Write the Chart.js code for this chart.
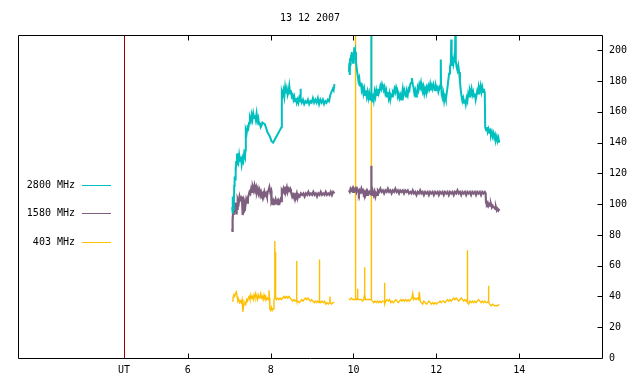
<!DOCTYPE html>
<html>
<head>
<meta charset="utf-8">
<script src="https://cdn.jsdelivr.net/npm/chart.js@4/dist/chart.umd.min.js"></script>
<style>
  html, body { margin: 0; padding: 0; background: #fff; }
  #wrap { width: 640px; height: 384px; }
</style>
</head>
<body>
<div id="wrap"><canvas id="solarChart" width="640" height="384"></canvas></div>
<script>
// Dados (hora UT, fluxo)
const chartTitle = '13 12 2007';
const seriesNames = ['2800 MHz', '1580 MHz', '403 MHz'];
const xTicks = [4.46, 6, 8, 10, 12, 14];
const xTickLabels = ['UT', '6', '8', '10', '12', '14'];
const yTicks = [0, 20, 40, 60, 80, 100, 120, 140, 160, 180, 200];
const utLine = 4.46;

const t2800 = [7.07,7.08,7.09,7.10,7.11,7.12,7.13,7.14,7.15,7.16,7.17,7.18,7.19,7.20,7.22,7.24,7.26,7.28,7.30,7.32,7.34,7.36,7.38,7.39,
  7.40,7.42,7.44,7.46,7.48,7.50,7.52,7.54,7.56,7.58,7.60,7.62,7.64,7.66,7.68,7.70,7.72,7.74,7.76,7.78,7.80,
  7.86,7.92,7.98,8.02,8.06,8.10,8.14,8.18,8.22,8.26,
  8.27,8.29,8.31,8.33,8.35,8.37,8.39,8.41,8.43,8.45,8.47,8.49,8.51,8.53,8.55,8.57,8.59,8.61,8.63,8.65,8.67,8.69,8.71,8.72,8.73,8.75,
  8.78,8.81,8.84,8.87,8.90,8.93,8.96,8.99,9.02,9.05,9.08,9.11,9.14,9.17,9.20,9.23,9.26,9.29,9.32,9.35,9.38,9.41,9.44,9.47,9.50,9.52,9.54,
  9.70,
  9.89,9.90,9.91,9.92,9.93,9.94,9.95,9.96,9.97,9.98,9.99,10.00,10.01,10.02,10.03,10.04,10.06,10.08,10.10,10.12,10.14,10.16,10.18,10.20,
  10.22,10.24,10.26,10.28,10.30,10.32,10.34,10.36,10.38,10.40,10.42,10.425,10.43,10.435,10.45,10.47,10.49,10.51,10.53,10.55,10.57,10.59,
  10.61,10.63,10.65,10.67,10.69,10.71,10.73,10.75,10.77,10.79,10.81,10.83,10.85,10.87,10.89,10.91,10.93,10.95,10.97,10.99,11.01,11.03,
  11.05,11.07,11.09,11.11,11.13,11.15,11.17,11.19,11.21,11.23,11.25,11.27,11.29,11.31,11.33,11.35,11.37,11.39,11.41,11.43,11.45,11.47,
  11.49,11.51,11.53,11.55,11.57,11.59,11.61,11.63,11.65,11.67,11.69,11.71,11.73,11.75,11.77,11.79,11.81,11.83,11.85,11.87,11.89,11.91,
  11.93,11.95,11.97,11.99,12.01,12.03,12.05,12.07,12.09,12.105,12.11,12.115,12.13,12.15,12.17,12.19,12.21,12.23,12.25,12.27,12.29,12.31,
  12.33,12.35,12.36,12.37,12.39,12.41,12.43,12.45,12.46,12.47,12.49,12.51,12.53,12.55,12.57,12.59,12.61,12.63,12.65,12.67,12.69,12.71,
  12.73,12.75,12.77,12.79,12.81,12.83,12.85,12.87,12.89,12.91,12.93,12.95,12.97,12.99,13.01,13.03,13.05,13.07,13.09,13.11,13.13,13.15,
  13.17,13.18,13.20,13.22,13.24,13.26,13.28,13.30,13.32,13.34,13.36,13.38,13.40,13.42,13.44,13.46,13.48,13.50,13.52];
const v2800 = [98,105,94,100,96,112,118,116,124,121,128,125,133,129,127,132,128,131,126,130,128,133,131,135,
  148,146,150,149,153,156,154,158,155,159,156,158,155,159,154,156,152,153,150,151,153,
  152,147,144,141,140,142,144,146,148,150,
  173,171,174,170,176,172,175,171,173,177,172,174,170,171,168,170,167,169,166,168,166,169,167,175,168,166,
  168,165,167,166,168,165,167,166,169,166,168,166,169,165,168,166,168,165,167,166,168,167,171,173,175,174,178,
  null,
  186,192,184,195,190,197,193,199,194,196,192,198,195,202,197,199,193,188,184,180,182,177,179,174,
  176,172,175,171,174,170,173,169,172,168,171,172,215,170,167,172,168,173,170,174,171,175,
  172,174,177,175,178,176,174,176,172,174,170,173,169,172,168,171,170,173,172,175,173,176,
  174,170,172,169,171,168,171,175,171,174,172,170,173,171,175,174,178,179,182,178,176,172,
  174,170,172,176,174,178,176,179,175,173,176,172,175,173,176,174,177,175,178,174,177,175,
  178,176,174,177,175,176,173,175,177,178,194,177,171,169,172,167,170,168,172,176,181,185,
  189,192,207,190,194,191,195,192,215,193,189,187,190,186,180,174,170,167,169,166,168,165,
  169,167,172,170,174,172,175,171,173,170,172,168,171,174,172,176,174,177,173,176,173,175,
  172,150,148,150,147,149,147,148,145,147,144,146,143,145,142,144,141,143,140];

const t1580 = [7.07,7.075,7.08,7.09,7.10,7.11,7.12,7.13,7.14,7.15,7.16,7.17,7.18,7.19,7.20,7.21,7.23,7.25,7.27,7.29,7.31,7.32,7.33,7.34,
  7.35,7.36,7.37,7.39,7.41,7.43,7.45,7.47,7.49,7.51,7.53,7.55,7.57,7.59,7.61,7.63,7.65,7.67,7.69,7.71,7.73,7.75,7.77,7.79,7.81,7.83,
  7.85,7.87,7.89,7.91,7.93,7.95,7.97,7.99,8.01,8.02,8.04,8.06,8.08,8.10,8.12,8.14,8.16,8.18,8.20,8.22,8.24,8.26,8.27,8.29,8.31,8.33,
  8.35,8.37,8.39,8.41,8.43,8.45,8.47,8.49,8.51,8.53,8.55,8.57,8.59,8.61,8.63,8.65,8.67,8.70,8.73,8.76,8.79,8.82,8.85,8.88,8.91,8.94,
  8.97,9.00,9.03,9.06,9.09,9.12,9.15,9.18,9.21,9.24,9.27,9.30,9.33,9.36,9.39,9.42,9.45,9.48,9.51,9.54,
  9.70,
  9.89,9.91,9.93,9.95,9.97,9.99,10.01,10.03,10.05,10.07,10.09,10.11,10.13,10.15,10.17,10.19,10.21,10.23,10.25,10.27,10.29,10.31,10.33,
  10.35,10.37,10.39,10.41,10.425,10.43,10.435,10.45,10.47,10.49,10.51,10.53,10.55,10.57,10.59,10.62,10.65,10.68,10.71,10.74,10.77,
  10.80,10.83,10.86,10.89,10.92,10.95,10.98,11.01,11.04,11.07,11.10,11.13,11.16,11.19,11.22,11.25,11.28,11.31,11.34,11.37,11.40,
  11.43,11.46,11.49,11.52,11.55,11.58,11.61,11.64,11.67,11.70,11.73,11.76,11.79,11.82,11.85,11.88,11.91,11.94,11.97,12.00,12.03,
  12.06,12.09,12.12,12.15,12.18,12.21,12.24,12.27,12.30,12.33,12.36,12.39,12.42,12.45,12.48,12.51,12.54,12.57,12.60,12.63,12.66,
  12.69,12.72,12.75,12.78,12.81,12.84,12.87,12.90,12.93,12.96,12.99,13.02,13.05,13.08,13.11,13.14,13.17,13.19,13.20,13.22,13.24,
  13.26,13.28,13.30,13.32,13.34,13.36,13.38,13.40,13.42,13.44,13.46,13.48,13.50,13.52];
const v1580 = [84,86,82,90,97,93,100,96,101,95,99,94,100,97,102,103,101,105,103,104,102,105,93,95,
  98,96,101,99,103,101,104,106,108,107,110,108,111,109,112,109,111,108,110,107,109,106,108,106,107,105,
  108,106,107,105,108,109,111,108,109,101,102,100,102,101,103,101,102,100,102,101,103,102,109,108,110,108,
  110,109,111,108,110,109,110,108,107,105,106,104,106,105,107,104,106,105,107,106,107,105,107,106,108,106,
  107,106,108,106,107,105,107,106,108,106,107,106,108,106,107,106,108,106,108,107,
  null,
  109,108,110,109,110,108,110,109,110,108,110,109,107,109,108,110,108,109,107,108,106,108,106,
  108,107,108,107,108,125,107,106,108,106,108,105,107,106,109,108,110,108,109,107,109,
  108,110,108,109,107,109,108,110,108,109,107,109,108,109,107,109,108,109,107,108,107,
  109,107,108,106,108,107,109,107,108,106,108,107,108,106,108,107,108,106,108,107,108,
  106,108,107,108,106,108,107,108,106,108,107,108,106,108,107,109,107,108,106,108,107,
  108,106,108,107,108,106,108,107,108,106,108,107,108,106,108,107,108,107,101,100,101,
  99,100,99,100,98,99,98,98,97,98,96,97,96,97];

const t403 = [7.07,7.09,7.11,7.13,7.15,7.17,7.19,7.21,7.23,7.25,7.27,7.29,7.31,7.33,7.34,7.36,7.38,7.40,7.42,7.44,7.46,7.48,7.50,
  7.52,7.54,7.56,7.58,7.60,7.62,7.64,7.66,7.68,7.70,7.72,7.74,7.76,7.78,7.80,7.82,7.84,7.86,7.88,7.90,7.92,7.94,7.96,7.97,7.98,8.00,
  8.02,8.04,8.06,8.08,8.095,8.10,8.105,8.115,8.12,8.125,8.14,8.17,8.20,8.23,8.26,8.29,8.32,8.35,8.38,8.41,8.44,8.47,8.50,8.53,8.56,
  8.59,8.62,8.625,8.63,8.635,8.66,8.69,8.72,8.75,8.78,8.81,8.84,8.87,8.90,8.93,8.96,8.99,9.02,9.05,9.08,9.11,9.14,9.17,9.175,9.18,
  9.185,9.21,9.24,9.27,9.30,9.33,9.36,9.39,9.42,9.43,9.44,9.47,9.50,9.54,
  9.70,
  9.89,9.92,9.95,9.98,10.01,10.04,10.045,10.05,10.055,10.08,10.095,10.10,10.105,10.14,10.18,10.22,10.25,10.26,10.265,10.27,10.275,
  10.29,10.33,10.37,10.41,10.425,10.43,10.435,10.46,10.49,10.52,10.55,10.58,10.61,10.64,10.67,10.70,10.745,10.75,10.755,10.78,10.81,
  10.84,10.87,10.90,10.93,10.96,10.99,11.02,11.05,11.08,11.11,11.14,11.17,11.20,11.23,11.26,11.29,11.32,11.35,11.38,11.41,11.43,
  11.45,11.48,11.51,11.54,11.57,11.59,11.61,11.64,11.67,11.70,11.73,11.76,11.79,11.82,11.85,11.88,11.91,11.94,11.97,12.00,12.03,
  12.06,12.09,12.12,12.15,12.18,12.21,12.24,12.27,12.30,12.33,12.36,12.39,12.42,12.45,12.48,12.51,12.54,12.57,12.60,12.63,12.66,
  12.69,12.72,12.745,12.75,12.755,12.78,12.81,12.84,12.87,12.90,12.93,12.96,12.99,13.02,13.05,13.08,13.11,13.14,13.17,13.20,13.23,
  13.255,13.26,13.265,13.29,13.32,13.36,13.40,13.44,13.48,13.52];
const v403 = [37,39,41,40,42,43,40,37,38,36,37,36,38,30,33,35,36,35,38,37,39,40,38,
  41,39,40,38,41,39,42,40,38,41,39,40,42,39,40,38,41,39,40,38,39,38,44,39,32,31,
  33,31,32,38,39,76,40,39,69,39,38,39,38,39,38,39,40,39,40,39,40,39,38,37,38,
  37,38,37,63,37,37,36,37,38,37,38,39,38,39,38,37,38,37,36,37,36,37,36,37,64,
  37,36,37,36,37,35,36,35,36,40,36,35,36,36,
  null,
  38,38,39,38,38,38,39,215,39,38,38,45,38,38,38,37,38,40,38,59,41,
  38,38,38,38,38,215,38,37,36,37,36,37,36,37,36,37,37,49,35,37,38,
  37,38,36,37,36,37,38,37,36,37,38,37,38,37,38,37,38,37,38,39,42,
  38,39,38,39,38,43,37,36,35,37,36,35,36,37,36,35,36,35,36,35,36,
  36,37,36,37,37,36,37,38,37,38,37,38,39,38,39,38,37,38,39,38,37,
  38,37,38,70,36,35,37,36,37,36,37,36,37,38,37,36,37,36,37,36,36,
  37,47,36,35,34,35,34,34,34,35];

const colors = ['#00bfbf', '#7f5f7f', '#ffbf00'];
const FONT = '10px "DejaVu Sans Mono", monospace';

function toPoints(t, v) {
    return t.map((x, i) => ({ x: x, y: v[i] }));
}

// Moldura, marcas internas, linha UT, título e legenda no estilo gnuplot
const gnuplotFrame = {
    id: 'gnuplotFrame',
    beforeDatasetsDraw(chart) {
        const { ctx, chartArea: a, scales } = chart;
        const xu = Math.round(scales.x.getPixelForValue(utLine)) + 0.5;
        ctx.save();
        ctx.strokeStyle = '#9b0000';
        ctx.lineWidth = 1;
        ctx.beginPath();
        ctx.moveTo(xu, a.top);
        ctx.lineTo(xu, a.bottom);
        ctx.stroke();
        ctx.restore();
    },
    afterDraw(chart) {
        const { ctx, chartArea: a, scales } = chart;
        ctx.save();
        ctx.strokeStyle = '#000';
        ctx.lineWidth = 1;
        const L = Math.round(a.left) + 0.5, R = Math.round(a.right) + 0.5;
        const T = Math.round(a.top) + 0.5, B = Math.round(a.bottom) + 0.5;
        ctx.beginPath();
        ctx.moveTo(L, T); ctx.lineTo(R, T); ctx.lineTo(R, B); ctx.lineTo(L, B); ctx.closePath();
        xTicks.forEach(v => {
            if (v === utLine) return;
            const x = Math.round(scales.x.getPixelForValue(v)) + 0.5;
            ctx.moveTo(x, B); ctx.lineTo(x, B - 5);
            ctx.moveTo(x, T); ctx.lineTo(x, T + 5);
        });
        yTicks.forEach(v => {
            if (v === 0) return;
            const y = Math.round(scales.y.getPixelForValue(v)) + 0.5;
            ctx.moveTo(R, y); ctx.lineTo(R - 5, y);
        });
        ctx.stroke();

        ctx.font = FONT;
        ctx.fillStyle = '#000';
        ctx.textAlign = 'center';
        ctx.textBaseline = 'middle';
        ctx.fillText(chartTitle, (a.left + a.right) / 2, 18);

        // legenda
        ctx.textAlign = 'right';
        const legendY = [185, 213, 242];
        seriesNames.forEach((name, i) => {
            ctx.fillStyle = '#000';
            ctx.fillText(name, 75, legendY[i]);
            ctx.strokeStyle = colors[i];
            ctx.beginPath();
            ctx.moveTo(82, legendY[i] + 0.5);
            ctx.lineTo(111, legendY[i] + 0.5);
            ctx.stroke();
        });
        ctx.restore();
    }
};

document.addEventListener('DOMContentLoaded', () => {
    if (typeof Chart === 'undefined') {
        console.error('Chart.js não carregado.');
        return;
    }

    new Chart(document.getElementById('solarChart').getContext('2d'), {
        type: 'line',
        data: {
            datasets: [
                { label: seriesNames[0], data: toPoints(t2800, v2800), borderColor: colors[0], borderWidth: 2 },
                { label: seriesNames[1], data: toPoints(t1580, v1580), borderColor: colors[1], borderWidth: 2.2 },
                { label: seriesNames[2], data: toPoints(t403, v403), borderColor: colors[2], borderWidth: 1.4 }
            ]
        },
        options: {
            responsive: false,
            animation: false,
            devicePixelRatio: 1,
            spanGaps: false,
            elements: {
                point: { radius: 0 },
                line: { tension: 0, fill: false, borderJoinStyle: 'miter' }
            },
            layout: { padding: { left: 18, top: 35, right: 0, bottom: 0 } },
            plugins: {
                legend: { display: false },
                title: { display: false },
                tooltip: { enabled: false }
            },
            scales: {
                x: {
                    type: 'linear',
                    min: 1.9,
                    max: 16,
                    grid: { display: false, drawTicks: false },
                    border: { display: false },
                    afterBuildTicks: s => { s.ticks = xTicks.map(v => ({ value: v })); },
                    afterFit: s => { s.height = 26; },
                    ticks: {
                        autoSkip: false,
                        maxRotation: 0,
                        padding: 6,
                        color: '#000',
                        font: { family: '"DejaVu Sans Mono", monospace', size: 10 },
                        callback: (v, i) => xTickLabels[i]
                    }
                },
                y: {
                    position: 'right',
                    min: 0,
                    max: 210,
                    grid: { display: false, drawTicks: false },
                    border: { display: false },
                    afterBuildTicks: s => { s.ticks = yTicks.map(v => ({ value: v })); },
                    afterFit: s => { s.width = 38; },
                    ticks: {
                        padding: 7,
                        color: '#000',
                        font: { family: '"DejaVu Sans Mono", monospace', size: 10 },
                        callback: v => String(v)
                    }
                }
            }
        },
        plugins: [gnuplotFrame]
    });
});
</script>
</body>
</html>
